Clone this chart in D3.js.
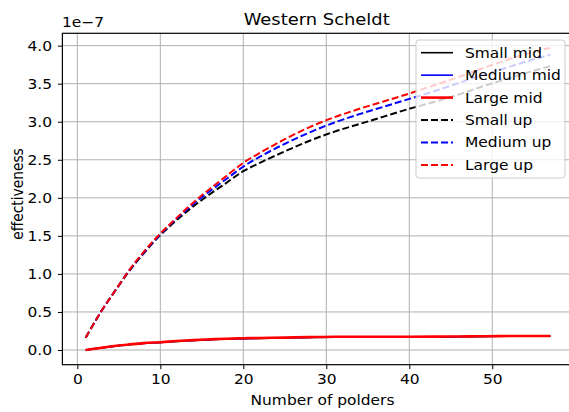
<!DOCTYPE html>
<html>
<head>
<meta charset="utf-8">
<script src="https://cdn.jsdelivr.net/npm/d3@7"></script>
<style>
  html, body { margin: 0; padding: 0; background: #fff; }
  svg { display: block; font-family: "DejaVu Sans", sans-serif; }
</style>
</head>
<body>
<svg id="chart" width="569" height="412"></svg>
<script>
// Number of polders sampled along each curve
const polders = [1, 2, 3, 4, 5, 6, 8, 10, 12, 14, 16, 18, 20, 22, 25, 28, 31, 34, 37, 40, 43, 46, 49, 52, 55, 57];

// Effectiveness, in units of 1e-7
const smallMid  = [0.000, 0.015, 0.030, 0.045, 0.058, 0.068, 0.087, 0.100, 0.114, 0.126, 0.136, 0.144, 0.149, 0.153, 0.158, 0.165, 0.170, 0.171, 0.171, 0.171, 0.172, 0.175, 0.178, 0.181, 0.182, 0.182];
const mediumMid = [0.000, 0.015, 0.030, 0.045, 0.058, 0.068, 0.088, 0.101, 0.115, 0.127, 0.137, 0.145, 0.150, 0.154, 0.159, 0.166, 0.171, 0.172, 0.172, 0.172, 0.173, 0.176, 0.179, 0.182, 0.183, 0.183];
const largeMid  = [0.000, 0.016, 0.031, 0.046, 0.060, 0.070, 0.090, 0.103, 0.118, 0.130, 0.140, 0.149, 0.154, 0.158, 0.163, 0.170, 0.175, 0.175, 0.175, 0.175, 0.176, 0.178, 0.181, 0.184, 0.185, 0.185];
const smallUp   = [0.16, 0.35, 0.53, 0.69, 0.85, 1.00, 1.27, 1.51, 1.71, 1.89, 2.05, 2.20, 2.35, 2.46, 2.61, 2.75, 2.87, 2.97, 3.07, 3.17, 3.26, 3.36, 3.47, 3.57, 3.67, 3.73];
const mediumUp  = [0.16, 0.35, 0.53, 0.69, 0.85, 1.01, 1.28, 1.52, 1.73, 1.92, 2.09, 2.25, 2.41, 2.54, 2.71, 2.86, 2.99, 3.10, 3.20, 3.30, 3.40, 3.51, 3.62, 3.72, 3.82, 3.88];
const largeUp   = [0.16, 0.35, 0.53, 0.69, 0.85, 1.01, 1.29, 1.53, 1.74, 1.94, 2.12, 2.29, 2.46, 2.59, 2.77, 2.93, 3.06, 3.17, 3.27, 3.37, 3.48, 3.59, 3.71, 3.82, 3.92, 3.97];

const xTicks = [0, 10, 20, 30, 40, 50];
const yTicks = [0.0, 0.5, 1.0, 1.5, 2.0, 2.5, 3.0, 3.5, 4.0];

const series = [
  { name: "Small mid",  values: smallMid,  color: "#000000", dash: null, width: 1.6 },
  { name: "Medium mid", values: mediumMid, color: "#0000ff", dash: null, width: 1.6 },
  { name: "Large mid",  values: largeMid,  color: "#ff0000", dash: null, width: 2.6 },
  { name: "Small up",   values: smallUp,   color: "#000000", dash: "7,3", width: 2 },
  { name: "Medium up",  values: mediumUp,  color: "#0000ff", dash: "7,3", width: 2 },
  { name: "Large up",   values: largeUp,   color: "#ff0000", dash: "7,3", width: 2 }
];

const svg = d3.select("#chart");
const plot = { left: 62.4, right: 573.6, top: 33.3, bottom: 364.7 };

// glyphs are drawn slightly wide
const SX = 1.12;
const FS = 13.8;

const x = d3.scaleLinear().domain([-1.8, 59.8]).range([plot.left, plot.right]);
const y = d3.scaleLinear().domain([-0.193, 4.162]).range([plot.bottom, plot.top]);

function label(px, py, str, size, anchor, rotate) {
  const g = svg.append("g")
    .attr("transform", `translate(${px},${py}) scale(${SX},1)` + (rotate ? ` rotate(${rotate})` : ""));
  g.append("text")
    .attr("text-anchor", anchor || "start")
    .attr("fill", "#000")
    .style("font-size", size + "px")
    .text(str);
  return g;
}

// grid
const grid = svg.append("g");
grid.selectAll("line.gx").data(xTicks).join("line")
  .attr("x1", d => x(d)).attr("x2", d => x(d))
  .attr("y1", plot.top).attr("y2", plot.bottom)
  .attr("stroke", "#b0b0b0").attr("stroke-width", 1);
grid.selectAll("line.gy").data(yTicks).join("line")
  .attr("y1", d => y(d)).attr("y2", d => y(d))
  .attr("x1", plot.left).attr("x2", plot.right)
  .attr("stroke", "#b0b0b0").attr("stroke-width", 1);

// lines
svg.append("clipPath").attr("id", "clip").append("rect")
  .attr("x", plot.left).attr("y", plot.top)
  .attr("width", plot.right - plot.left).attr("height", plot.bottom - plot.top);

const line = d3.line().x((d, i) => x(polders[i])).y(d => y(d)).curve(d3.curveMonotoneX);
const lines = svg.append("g").attr("clip-path", "url(#clip)");
series.forEach(s => {
  lines.append("path")
    .attr("d", line(s.values))
    .attr("fill", "none")
    .attr("stroke", s.color)
    .attr("stroke-width", s.width)
    .attr("stroke-dasharray", s.dash)
    .attr("stroke-linejoin", "round");
});

// axes
const xAxis = d3.axisBottom(x).tickValues(xTicks).tickSize(4.5).tickPadding(5.5).tickFormat(d3.format("d"));
const yAxis = d3.axisLeft(y).tickValues(yTicks).tickSize(4.5).tickPadding(5.8).tickFormat(d3.format(".1f"));

const gx = svg.append("g").attr("transform", `translate(0,${plot.bottom})`).call(xAxis);
const gy = svg.append("g").attr("transform", `translate(${plot.left},0)`).call(yAxis);
[gx, gy].forEach(g => {
  g.select(".domain").remove();
  g.selectAll("line").attr("stroke", "#000").attr("stroke-width", 1);
  g.selectAll("text")
    .attr("fill", "#000")
    .style("font-size", FS + "px")
    .style("font-family", "DejaVu Sans")
    .attr("x", function () { return (+d3.select(this).attr("x") || 0) / SX; })
    .attr("transform", `scale(${SX},1)`);
});

// frame
svg.append("rect")
  .attr("x", plot.left).attr("y", plot.top)
  .attr("width", plot.right - plot.left).attr("height", plot.bottom - plot.top)
  .attr("fill", "none").attr("stroke", "#000").attr("stroke-width", 1.2);

// title and labels
label(316.7, 25, "Western Scheldt", 16, "middle");
label(62, 26.5, "1e\u22127", FS, "start");
label(322.5, 405, "Number of polders", FS, "middle");
label(22.7, 194, "effectiveness", FS, "middle", -90);

// legend
const legend = svg.append("g");
legend.append("rect")
  .attr("x", 416).attr("y", 40).attr("width", 149).attr("height", 138)
  .attr("rx", 3).attr("fill", "#fff").attr("fill-opacity", 0.8)
  .attr("stroke", "#cccccc").attr("stroke-width", 1);
series.forEach((s, i) => {
  const cy = 52.7 + i * 22.45;
  legend.append("line")
    .attr("x1", 421).attr("x2", 453).attr("y1", cy).attr("y2", cy)
    .attr("stroke", s.color).attr("stroke-width", s.width)
    .attr("stroke-dasharray", s.dash);
  label(465, cy + 0.36 * FS, s.name, FS, "start");
});
</script>
</body>
</html>
